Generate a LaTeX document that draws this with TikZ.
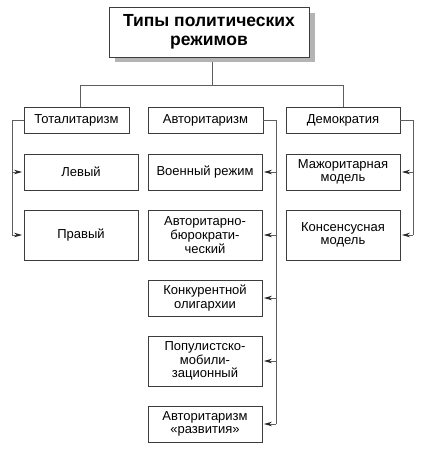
\documentclass[tikz,border=0pt]{standalone}
\usepackage{fontspec}
\setmainfont{Liberation Sans}
\usetikzlibrary{arrows.meta}
\definecolor{ln}{HTML}{3C3C3C}
\definecolor{cn}{HTML}{5E5E5E}
\definecolor{shd}{HTML}{B4B4B4}
\tikzset{
  box/.style={draw=ln, line width=0.9pt, fill=white, rectangle, inner sep=0pt, align=center,
    font=\fontsize{13}{13.6}\selectfont},
  conn/.style={draw=cn, line width=0.9pt},
  arr/.style={conn, -{Stealth[length=8pt,width=4.5pt,color=black!85]}, shorten >=1.5pt},
}
\begin{document}
\begin{tikzpicture}[x=1pt,y=-1pt]
\useasboundingbox (0,0) rectangle (422,450);
\fill[shd] (115,13) rectangle (315,62);
\node[box, minimum width=200pt, minimum height=50pt, font=\fontsize{17.5}{19}\selectfont\bfseries] (title) at (209,32) {Типы политических\\режимов};
\node[box, minimum width=105pt, minimum height=26pt] (tot) at (76.5,120) {Тоталитаризм};
\node[box, minimum width=115pt, minimum height=26pt] (avt) at (205.5,120) {Авторитаризм};
\node[box, minimum width=114pt, minimum height=26pt] (dem) at (343,120) {Демократия};
\node[box, minimum width=114pt, minimum height=36pt] (levy) at (81,172) {Левый};
\node[box, minimum width=114pt, minimum height=50pt] (pravy) at (81,235) {Правый};
\node[box, minimum width=114pt, minimum height=36pt] (voen) at (205,172) {Военный режим};
\node[box, minimum width=114pt, minimum height=50pt] (abur) at (205,235) {Авторитарно-\\бюрократи-\\ческий};
\node[box, minimum width=114pt, minimum height=36pt] (konk) at (205,298) {Конкурентной\\олигархии};
\node[box, minimum width=114pt, minimum height=50pt] (popul) at (205,361) {Популистско-\\мобили-\\зационный};
\node[box, minimum width=114pt, minimum height=36pt] (razv) at (205,424) {Авторитаризм\\«развития»};
\node[box, minimum width=114pt, minimum height=36pt] (maj) at (343,172) {Мажоритарная\\модель};
\node[box, minimum width=114pt, minimum height=50pt] (kons) at (343,235) {Консенсусная\\модель};
% top connectors
\coordinate (j) at (212,85);
\coordinate (hl) at (80,85);
\coordinate (hr) at (343,85);
\draw[conn] ([yshift=-5pt]title.south -| j) -- (j);
\draw[conn] (hl |- tot.north) -- (hl) -- (hr) -- (dem.north);
% totalitarianism bracket
\coordinate (tl) at (12,120);
\draw[conn] (tot.west) -- (tl) -- (tl |- pravy.west);
\draw[arr] (tl |- levy.west) -- (levy.west);
\draw[arr] (tl |- pravy.west) -- (pravy.west);
% authoritarianism bracket
\coordinate (ar) at (276,120);
\draw[conn] (avt.east) -- (ar) -- (ar |- razv.east);
\draw[arr] (ar |- voen.east) -- (voen.east);
\draw[arr] (ar |- abur.east) -- (abur.east);
\draw[arr] (ar |- konk.east) -- (konk.east);
\draw[arr] (ar |- popul.east) -- (popul.east);
\draw[arr] (ar |- razv.east) -- (razv.east);
% democracy bracket
\coordinate (dr) at (413,120);
\draw[conn] (dem.east) -- (dr) -- (dr |- kons.east);
\draw[arr] (dr |- maj.east) -- (maj.east);
\draw[arr] (dr |- kons.east) -- (kons.east);
\end{tikzpicture}
\end{document}
